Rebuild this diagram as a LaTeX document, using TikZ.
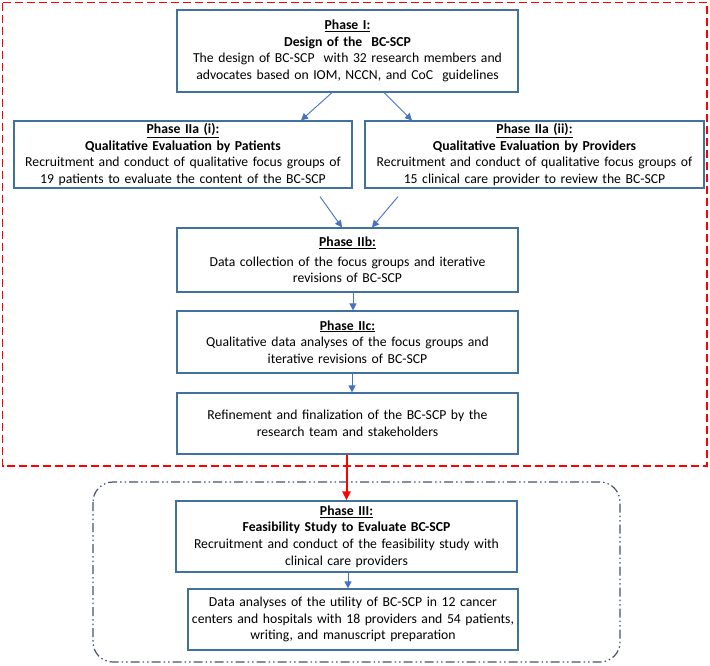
\documentclass[tikz,border=0pt]{standalone}
\usepackage{fontspec}
\setmainfont{Carlito}
\usetikzlibrary{arrows.meta,calc}
\definecolor{boxblue}{RGB}{65,113,156}
\definecolor{arrblue}{RGB}{68,114,196}
\definecolor{slate}{RGB}{68,84,106}
\tikzset{
  stepbox/.style={draw=boxblue, line width=1.2pt, fill=white, align=center, inner sep=2pt,
    font=\fontsize{13.7}{16.6}\selectfont},
  flowarrow/.style={draw=arrblue, line width=0.9pt, -{Triangle[length=7pt,width=7pt]}},
  redarrow/.style={draw=red, line width=2pt, -{Triangle[length=9pt,width=8pt]}},
}
\newcommand{\phead}[1]{\underline{\textbf{#1}}}
\begin{document}
\begin{tikzpicture}[x=1pt,y=-1pt]
\useasboundingbox (0,0) rectangle (710,665);
% group frames
\draw[red, line width=1.4pt, dash pattern=on 8pt off 4pt] (2.5,2.5) rectangle (707,466);
\draw[slate, line width=1.2pt, rounded corners=20pt, dash pattern=on 9pt off 3pt on 1.5pt off 3pt on 1.5pt off 3pt] (93,482) rectangle (620,662);

\node[stepbox, minimum width=341pt, minimum height=82pt, text width=337pt] (p1) at (347.5,51)
  {\phead{Phase I:}\\ \textbf{Design of the\ \ BC-SCP}\\ The design of BC-SCP\ \ with 32 research members and\\ advocates based on IOM, NCCN, and CoC\ \ guidelines};
\node[stepbox, minimum width=338pt, minimum height=67pt, text width=334pt] (p2i) at (183,154.5)
  {\phead{Phase IIa (i):}\\ \textbf{Qualitative Evaluation by Patients}\\ Recruitment and conduct of qualitative focus groups of\\ 19 patients to evaluate the content of the BC-SCP};
\node[stepbox, minimum width=339pt, minimum height=67pt, text width=335pt] (p2ii) at (534.5,154.5)
  {\phead{Phase IIa (ii):}\\ \textbf{Qualitative Evaluation by Providers}\\ Recruitment and conduct of qualitative focus groups of\\ 15 clinical care provider to review the BC-SCP};
\node[stepbox, minimum width=341pt, minimum height=64pt, text width=337pt] (p2b) at (347.5,260)
  {\phead{Phase IIb:}\\[3pt] Data collection of the focus groups and iterative\\ revisions of BC-SCP};
\node[stepbox, minimum width=341pt, minimum height=62pt, text width=337pt] (p2c) at (347.5,342)
  {\phead{Phase IIc:}\\ Qualitative data analyses of the focus groups and\\ iterative revisions of BC-SCP};
\node[stepbox, minimum width=341pt, minimum height=61pt, text width=337pt] (pref) at (347.5,423.5)
  {Refinement and finalization of the BC-SCP by the\\ research team and stakeholders};
\node[stepbox, minimum width=341pt, minimum height=71pt, text width=337pt] (p3) at (346.5,536.5)
  {\phead{Phase III:}\\ \textbf{Feasibility Study to Evaluate BC-SCP}\\ Recruitment and conduct of the feasibility study with\\ clinical care providers};
\node[stepbox, minimum width=330pt, minimum height=61pt, text width=326pt] (pdata) at (353,619.5)
  {Data analyses of the utility of BC-SCP in 12 cancer\\ centers and hospitals with 18 providers and 54 patients,\\ writing, and manuscript preparation};

% connectors
\draw[flowarrow] ($(p1.south)+(-15.5,0)$) -- ($(p2i.north)+(118,0)$);
\draw[flowarrow] ($(p1.south)+(36.5,0)$) -- ($(p2ii.north)+(-122.5,0)$);
\draw[flowarrow] ($(p2i.south)+(137,8)$) -- ($(p2b.north)+(-5.5,0)$);
\draw[flowarrow] ($(p2ii.south)+(-136.5,8)$) -- ($(p2b.north)+(24.5,0)$);
\draw[flowarrow] ($(p2b.south)+(5.5,0)$) -- ($(p2c.north)+(5.5,0)$);
\draw[flowarrow] ($(p2c.south)+(4.5,0)$) -- ($(pref.north)+(4.5,0)$);
\draw[redarrow] ($(pref.south)+(-1,0)$) -- ($(p3.north)+(0,0)$);
\draw[flowarrow] ($(p3.south)+(1.5,0)$) -- ($(pdata.north)+(-5,0)$);
\end{tikzpicture}
\end{document}
